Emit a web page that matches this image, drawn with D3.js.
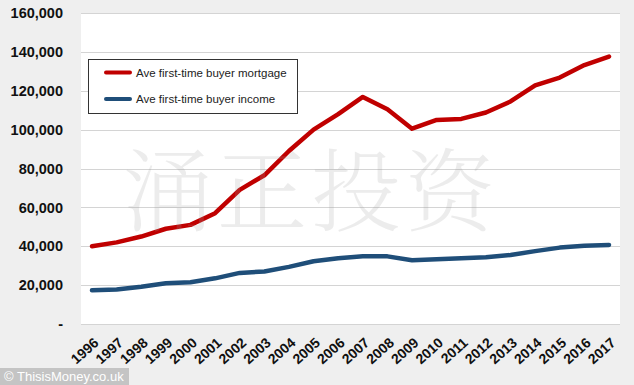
<!DOCTYPE html>
<html>
<head>
<meta charset="utf-8">
<script src="https://cdn.jsdelivr.net/npm/d3@7"></script>
<style>
  html, body { margin: 0; padding: 0; background: #efefef; }
  svg { display: block; font-family: "Liberation Sans", Arial, sans-serif; }
</style>
</head>
<body>
<div id="chart"></div>
<script>
// Ave first-time buyer mortgage vs income, 1996-2017

var years = ['1996','1997','1998','1999','2000','2001','2002','2003','2004','2005','2006',
             '2007','2008','2009','2010','2011','2012','2013','2014','2015','2016','2017'];

var mortgage = [40000, 42000, 45000, 49000, 51000, 57000, 69000, 76500, 89000, 100000, 108000,
                116800, 110500, 100500, 105000, 105500, 108800, 114500, 122800, 126800, 133200, 137600];

var income = [17300, 17800, 19200, 21000, 21500, 23500, 26300, 27000, 29400, 32300, 33800,
              34800, 34800, 32800, 33300, 33800, 34400, 35500, 37500, 39300, 40300, 40700];

var yTicks = [0, 20000, 40000, 60000, 80000, 100000, 120000, 140000, 160000];

var seriesNames = ['Ave first-time buyer mortgage', 'Ave first-time buyer income'];
var seriesColors = ['#c00000', '#1f4e79'];

var width = 634, height = 385;
var plot = { left: 81, right: 620, top: 13, bottom: 324 };

var svg = d3.select('#chart').append('svg')
    .attr('width', width)
    .attr('height', height);

svg.append('rect')
    .attr('width', width).attr('height', height)
    .attr('fill', '#efefef');

// plot area
svg.append('rect')
    .attr('x', plot.left).attr('y', plot.top)
    .attr('width', plot.right - plot.left)
    .attr('height', plot.bottom - plot.top)
    .attr('fill', '#ffffff');

var x = d3.scalePoint()
    .domain(years)
    .range([92, 609]);

var y = d3.scaleLinear()
    .domain([0, 160000])
    .range([plot.bottom, plot.top]);

// gridlines
svg.append('g')
    .selectAll('line')
    .data(yTicks)
    .join('line')
    .attr('x1', plot.left).attr('x2', plot.right)
    .attr('y1', function(d) { return Math.round(y(d)) + 0.5; })
    .attr('y2', function(d) { return Math.round(y(d)) + 0.5; })
    .attr('stroke', '#d4d4d4')
    .attr('stroke-width', 1);

// y axis labels
var yAxis = d3.axisLeft(y)
    .tickValues(yTicks)
    .tickSize(0)
    .tickPadding(0)
    .tickFormat(function(d) { return d === 0 ? '-' : d3.format(',')(d); });

var yG = svg.append('g')
    .attr('transform', 'translate(63,0)')
    .call(yAxis);
yG.select('.domain').remove();
yG.selectAll('text')
    .attr('font-family', '"Liberation Sans", Arial, sans-serif')
    .attr('font-size', '14.5px')
    .attr('font-weight', 'bold')
    .attr('fill', '#111');

// x axis labels (rotated)
var xAxis = d3.axisBottom(x).tickSize(0).tickPadding(0);
var xG = svg.append('g')
    .attr('transform', 'translate(0,' + plot.bottom + ')')
    .call(xAxis);
xG.select('.domain').remove();
xG.selectAll('text')
    .attr('font-family', '"Liberation Sans", Arial, sans-serif')
    .attr('font-size', '14px')
    .attr('font-weight', 'bold')
    .attr('fill', '#111')
    .attr('text-anchor', 'end')
    .attr('dy', 0)
    .attr('transform', 'translate(7,20) rotate(-42)');

// lines
var line = d3.line()
    .x(function(d, i) { return x(years[i]); })
    .y(function(d) { return y(d); });

[mortgage, income].forEach(function(values, i) {
    svg.append('path')
        .datum(values)
        .attr('d', line)
        .attr('fill', 'none')
        .attr('stroke', seriesColors[i])
        .attr('stroke-width', 4.5)
        .attr('stroke-linejoin', 'round')
        .attr('stroke-linecap', 'round');
});

// legend
var legend = svg.append('g').attr('transform', 'translate(88,59)');
legend.append('rect')
    .attr('x', 0.5).attr('y', 0.5)
    .attr('width', 209).attr('height', 54)
    .attr('fill', '#ffffff')
    .attr('stroke', '#333')
    .attr('stroke-width', 1);

seriesNames.forEach(function(name, i) {
    var ly = 13.5 + i * 26.5;
    legend.append('line')
        .attr('x1', 18).attr('x2', 42)
        .attr('y1', ly).attr('y2', ly)
        .attr('stroke', seriesColors[i])
        .attr('stroke-width', 4)
        .attr('stroke-linecap', 'round');
    legend.append('text')
        .attr('x', 48).attr('y', ly + 4)
        .attr('font-size', '11.5px')
        .attr('fill', '#222')
        .text(name);
});

// watermark
svg.append('text')
    .attr('x', 311).attr('y', 224)
    .attr('text-anchor', 'middle')
    .attr('font-family', '"Noto Serif CJK SC", "Noto Sans CJK SC", serif')
    .attr('font-size', '90px')
    .attr('font-weight', 300)
    .attr('fill', 'rgba(160,160,160,0.2)')
    .attr('letter-spacing', '4px')
    .text('涌正投资');

// footer credit
svg.append('rect')
    .attr('x', 0).attr('y', 368)
    .attr('width', 129).attr('height', 17)
    .attr('fill', '#c4c4c4');
svg.append('text')
    .attr('x', 4).attr('y', 381)
    .attr('font-size', '13px')
    .attr('fill', '#ffffff')
    .text('© ThisisMoney.co.uk');
</script>
</body>
</html>
